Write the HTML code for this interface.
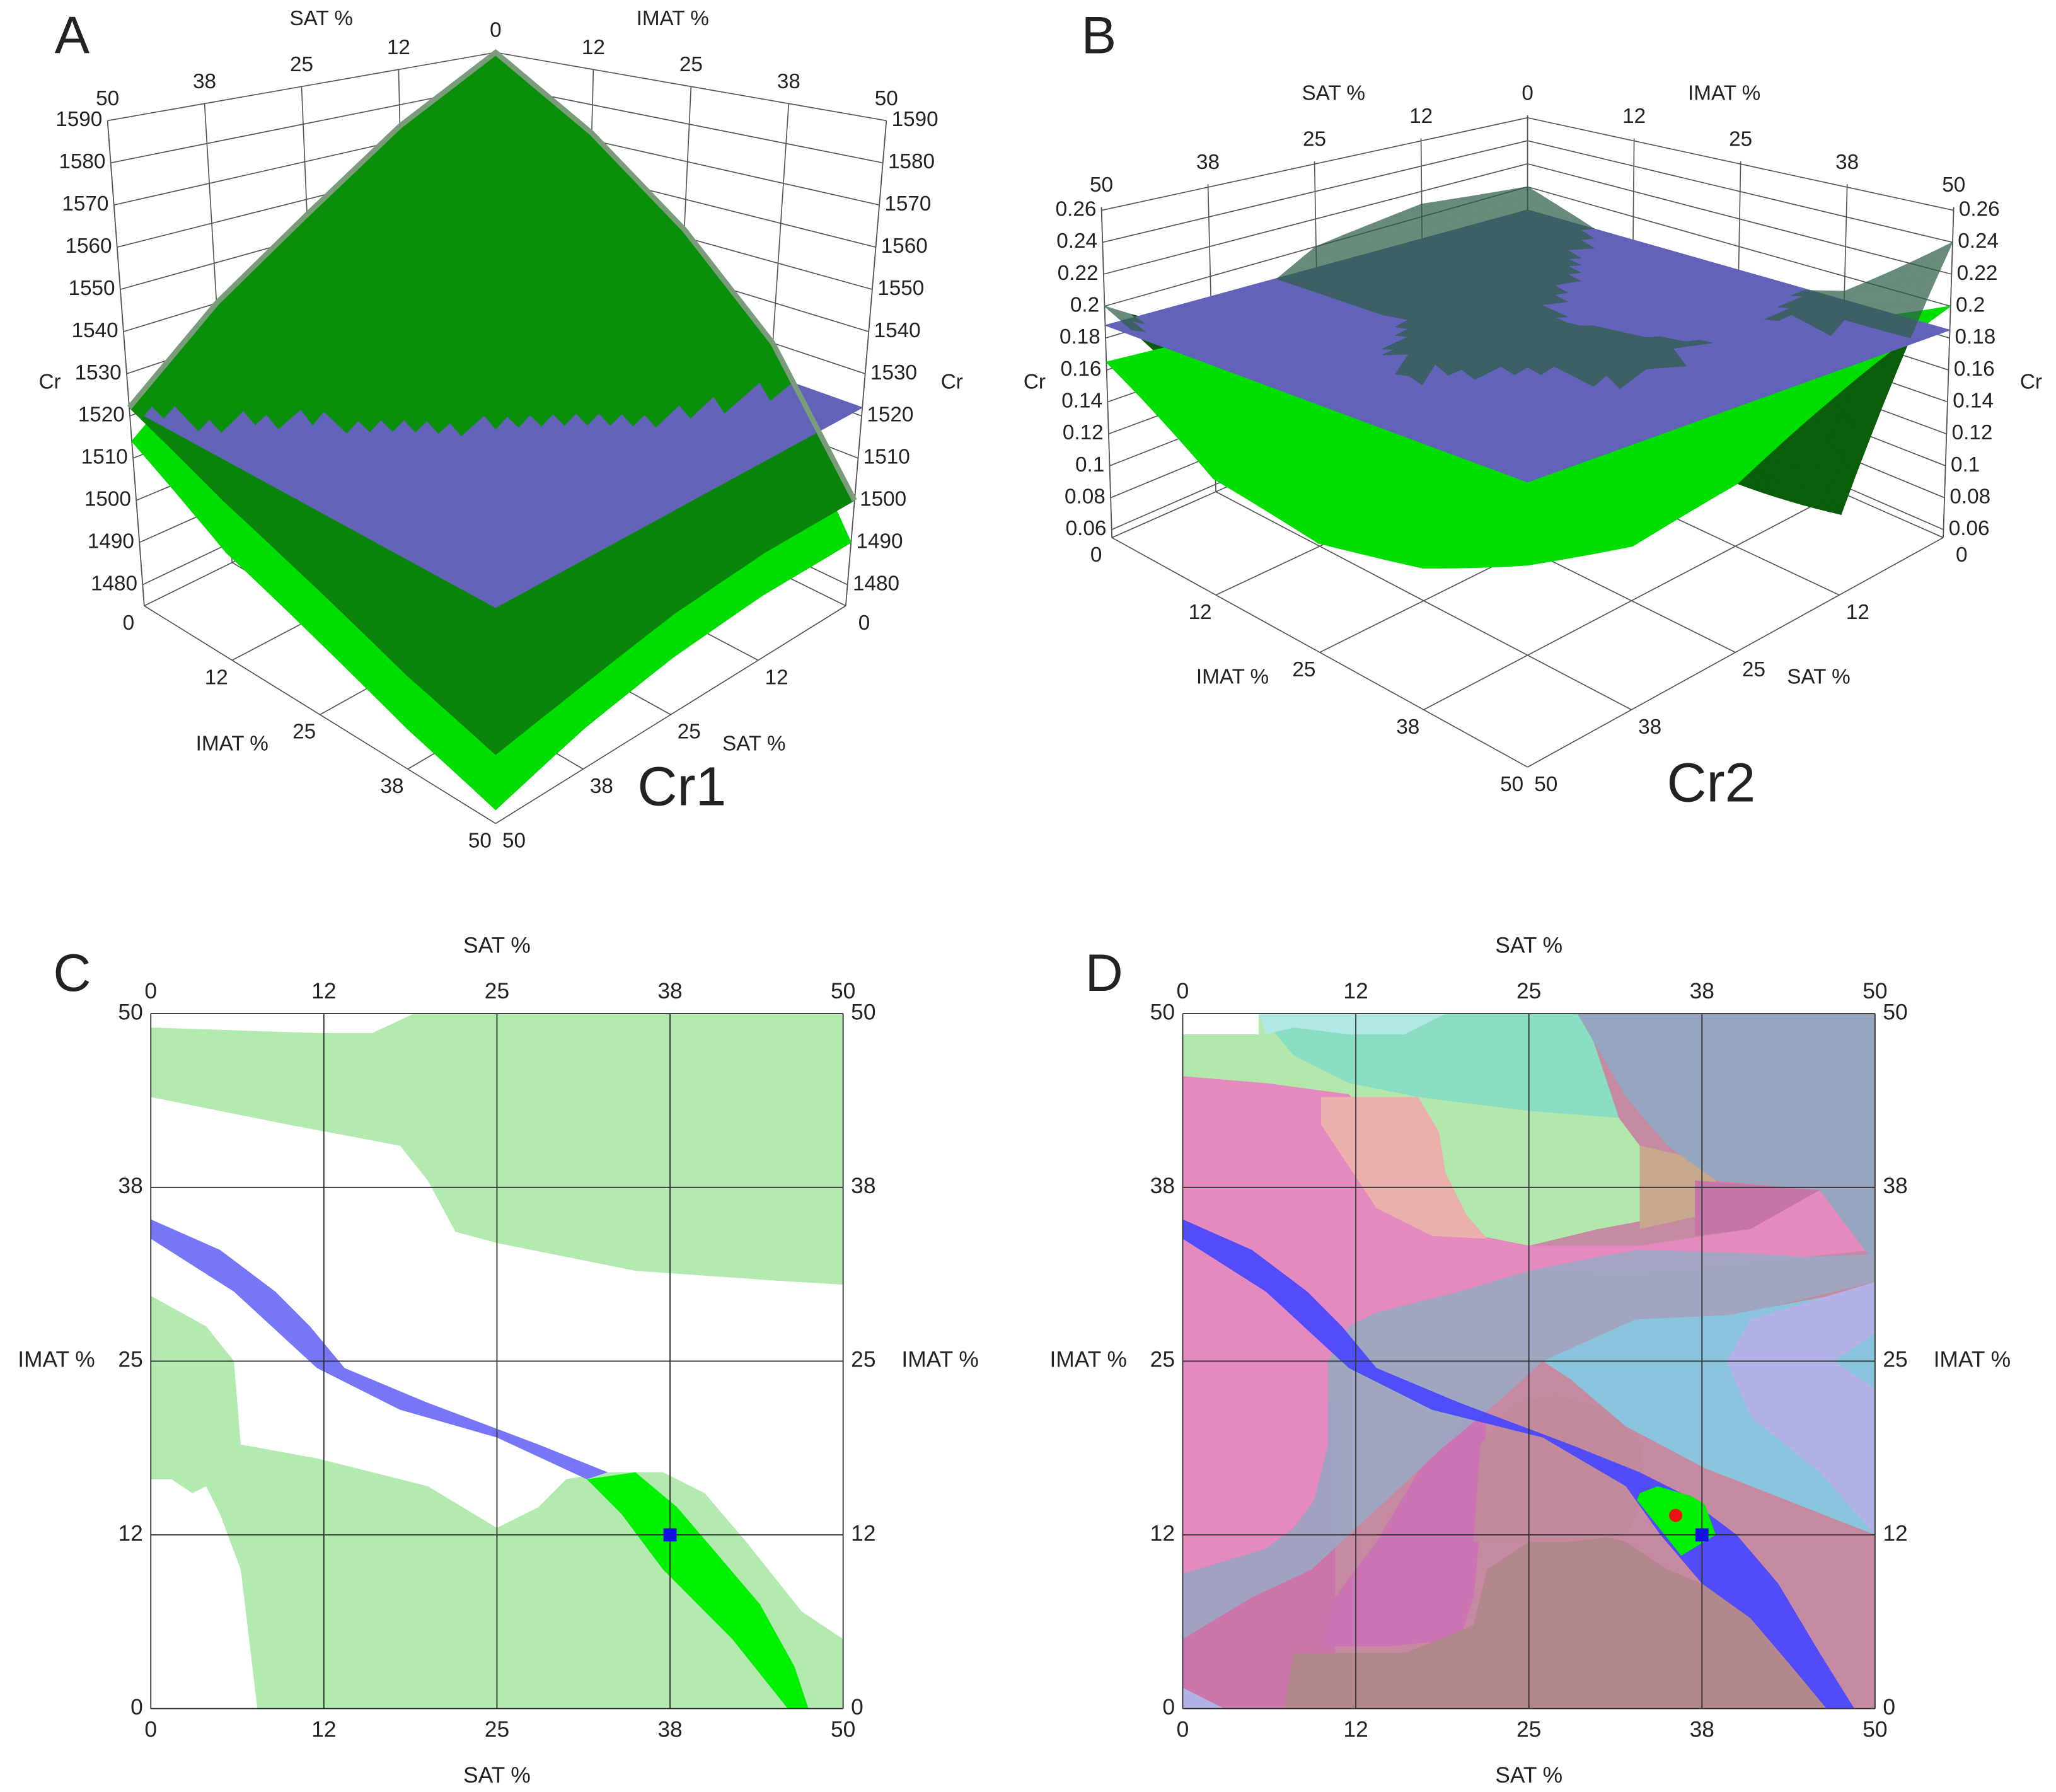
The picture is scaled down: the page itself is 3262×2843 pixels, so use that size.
<!DOCTYPE html>
<html><head><meta charset="utf-8"><style>
html,body{margin:0;padding:0;background:#fff;}
svg{display:block;font-family:"Liberation Sans",sans-serif;}
</style></head><body>
<svg id="fig" xmlns="http://www.w3.org/2000/svg" width="3262" height="2843" viewBox="0 0 1568 1366.6">
<rect x="0" y="0" width="1568" height="1367" fill="#fff"/>
</svg>
<script>
// ---------- DATA ----------
const gridTicks = [0, 12.5, 25, 37.5, 50];
const gridTickLabels = ["0", "12", "25", "38", "50"];
// Panel A (Cr1)
const crTicksA = [1480,1490,1500,1510,1520,1530,1540,1550,1560,1570,1580,1590];
const crTickLabelsA = ["1480","1490","1500","1510","1520","1530","1540","1550","1560","1570","1580","1590"];
const surfA = [ // rows: SAT 0..50, cols: IMAT 0..50
  [1590,1572,1552,1530,1500],
  [1574,1556,1536,1520,1500],
  [1556,1538,1521,1510,1498],
  [1540,1521,1512,1502,1494],
  [1522,1512,1504,1496,1490]];
const surfALower = [
  [1586,1566,1544,1522,1490],
  [1568,1548,1528,1510,1490],
  [1548,1528,1512,1500,1488],
  [1530,1512,1502,1492,1484],
  [1514,1500,1492,1484,1478]];
const planeA = [[1522,1522],[1522,1522]];
// Panel B (Cr2)
const crTicksB = [0.06,0.08,0.1,0.12,0.14,0.16,0.18,0.2,0.22,0.24,0.26];
const crTickLabelsB = ["0.06","0.08","0.1","0.12","0.14","0.16","0.18","0.2","0.22","0.24","0.26"];
const surfBBright = [
  [0.15,0.15,0.16,0.17,0.2],
  [0.15,0.13,0.12,0.13,0.17],
  [0.15,0.12,0.11,0.11,0.14],
  [0.16,0.12,0.11,0.11,0.13],
  [0.165,0.12,0.11,0.12,0.14]];
const surfBDark = [
  [0.20,0.17,0.17,0.19,0.24],
  [0.21,0.19,0.17,0.18,0.10],
  [0.20,0.19,0.19,0.19,0.14],
  [0.16,0.17,0.19,0.16,0.15],
  [0.20,0.16,0.11,0.15,0.15]];
const planeB = [[0.18,0.185],[0.188,0.175]];
// Panel C regions [SAT, IMAT]
const cGreenTop = [[0,49],[12,48.6],[16,48.6],[19,50],[50,50],[50,30.5],[45,30.8],[35,31.5],[25,33.5],[22,34.3],[20,38],[18,40.5],[10,42],[0,44]];
const cGreenBottom = [[0,29.7],[4,27.5],[6,25],[6.5,19],[12,18],[20,16],[25,13],[28,14.5],[30,16.5],[33,17],[37,17],[40,15.5],[43,12],[47,7],[50,5],[50,0],[7.7,0],[6.5,10],[5,14],[4,16],[3,15.5],[1.5,16.5],[0,16.5]];
const cBlueBand = [[0,35.2],[5,33],[9,30],[11.5,27.5],[14,24.5],[20,22],[28,19],[33,17],[31.5,16.5],[25,19.5],[18,21.5],[12,24.5],[6,30],[0,33.8]];
const cBrightGreen = [[31.5,16.5],[35,17],[38,14.5],[41,11],[44,7.5],[46.5,3],[47.5,0],[46,0],[42,5],[37,10],[34,14]];
const cMarker = [37.5,12.5];
// Panel D regions
const dBase = [[0,0],[50,0],[50,50],[0,50]];
const dWhiteCorner = [[0,50],[5.5,50],[5.5,48.5],[0,48.5]];
const dMagentaLeft = [[0,0],[11,0],[11,22],[6,24],[0,25]];
const dGreen = [[0,48.5],[5.5,48.5],[5.5,50],[29,50],[31.5,42.5],[33,40.5],[37,39.5],[38.5,38],[37,35.8],[30,34.5],[25,33.3],[21.5,34],[20,36],[19,38.5],[15,40],[0,44.5]];
const dPink = [[0,45.5],[6,45],[12,44.2],[14,42],[15,38],[19,34.5],[25,33.3],[33,33.3],[41,34.5],[46,37.3],[50,33],[33,31.3],[25,31.5],[20,30],[14,28.5],[12,27.5],[10.5,25],[10.5,19],[9.5,15],[8,13],[6,11.5],[0,9.7]];
const dTeal = [[5.5,50],[29,50],[31.5,42.5],[25,43],[17,44],[12,45],[8,47]];
const dCyan = [[5.5,50],[19,50],[16,48.5],[12,48.5],[8,49],[6,48.5]];
const dSalmon = [[10,44],[17,44],[18.5,41.5],[19,38.5],[20.5,35.5],[22,33.8],[18,34],[14,36],[12,39],[10,42]];
const dTan = [[33,40.5],[37.5,39.5],[38.5,38],[37.5,35.5],[33,34.5]];
const dMagentaMid = [[11,8],[14,12],[17,17],[19,19.5],[22,22],[21.5,13],[21,8],[20,5],[15,4.5],[10,4.5]];
const dBrown = [[7.3,0],[46.5,0],[44,3],[41,6.5],[37.5,9],[35,10],[32,12],[30,12.5],[25,12],[22,10],[21,6],[16,4],[8,4]];
const dMauveMid = [[21,12],[21.5,19],[24,22],[27,22.5],[31,21.5],[33,19],[33.5,15.5],[32,12.5],[28,12],[25,12]];
const dGreyTop = [[28.5,50],[50,50],[50,32],[46,37.3],[38.5,38],[35,40.5],[32,44]];
const dPinkWedge = [[37,38],[46,37.3],[41,34.5],[37,34]];
const dGreyBand = [[50,32.7],[45,32.5],[40,32.8],[33,33],[30,32.5],[25,31.5],[20,30],[14,28.5],[12,27.5],[10.5,25],[10.5,19],[9.5,15],[8,13],[6,11.5],[0,9.7],[0,5],[5,8],[9.3,10],[13.3,13.7],[18.7,18.7],[22.7,22],[26,25],[33,28],[40,28.3],[50,30.7]];
const dLightBlue = [[26,25],[32.7,28],[39.3,28.3],[50,30.3],[50,12.5],[37.7,17.3],[32,20.3],[28,23.7]];
const dLavender = [[39.3,25],[41,28],[50,30.7],[50,27],[47,25],[50,23],[50,12.5],[46,17],[41,21]];
const dLavenderCorner = [[0,0],[3,0],[0,1.5]];
const dBlueBand = [[0,35.2],[5,33],[9,30],[11.5,27.5],[14,24.5],[20,22],[28,19],[33,17],[36,15.5],[40,12.5],[43,9],[46,4],[48.5,0],[46.5,0],[44,3],[41,6.5],[37.5,9],[34.5,12.5],[32,16],[26,19.5],[18,21.5],[12,24.5],[6,30],[0,33.8]];
const dGreenSpot = [[33,15.5],[34.3,16],[36.7,15.3],[37.7,14.7],[38.5,12.5],[36,11],[32.8,15]];
const dRedDot = [35.6,13.9];
const dMarker = [37.5,12.5];

// ---------- HELPERS ----------
const NS = "http://www.w3.org/2000/svg";
const root = document.getElementById('fig');
function mk(tag, attrs, parent){ const e=document.createElementNS(NS,tag); for(const k in attrs) e.setAttribute(k,attrs[k]); (parent||root).appendChild(e); return e; }
function txt(x,y,s,size,anchor,parent){ const t=mk('text',{x:x,y:y,'font-size':size,'text-anchor':anchor||'middle','dominant-baseline':'middle',fill:'#222'},parent); t.textContent=s; return t; }
function lerp(a,b,t){return [a[0]+(b[0]-a[0])*t, a[1]+(b[1]-a[1])*t];}
function bil(c,u,v){ return lerp(lerp(c.p00,c.p10,u), lerp(c.p01,c.p11,u), v); }
function makeProj(floor, top, c0, c1){
  return function(s,i,cr){ const u=s/50, v=i/50, h=(cr-c0)/(c1-c0);
    const f=bil(floor,u,v), t=bil(top,u,v); return lerp(f,t,h); };
}
function pts(arr){ return arr.map(p=>p[0].toFixed(1)+','+p[1].toFixed(1)).join(' '); }
function refine(grid,k){
  const n=grid.length-1, m=grid[0].length-1, out=[];
  for(let a=0;a<=n*k;a++){ const row=[]; const fa=a/k, ia=Math.min(Math.floor(fa),n-1), ta=fa-ia;
    for(let b=0;b<=m*k;b++){ const fb=b/k, ib=Math.min(Math.floor(fb),m-1), tb=fb-ib;
      const z=grid[ia][ib]*(1-ta)*(1-tb)+grid[ia+1][ib]*ta*(1-tb)+grid[ia][ib+1]*(1-ta)*tb+grid[ia+1][ib+1]*ta*tb;
      row.push(z);} out.push(row);}
  return out;
}

// ---------- 3D PANEL ----------
function draw3D(g, P, c0, c1, crTicks, crLabels){
  const gl = {stroke:'#555','stroke-width':0.8,fill:'none'};
  crTicks.forEach(function(c){
    const l1=mk('polyline',Object.assign({points:pts([P(50,0,c),P(0,0,c),P(0,50,c)])},gl),g);
    
    
  });
  gridTicks.forEach(function(t){
    const a=mk('line',Object.assign({x1:P(t,0,c0)[0],y1:P(t,0,c0)[1],x2:P(t,0,c1)[0],y2:P(t,0,c1)[1]},gl),g);
    
    
    const b=mk('line',Object.assign({x1:P(0,t,c0)[0],y1:P(0,t,c0)[1],x2:P(0,t,c1)[0],y2:P(0,t,c1)[1]},gl),g);
    
    
    const f1=mk('line',Object.assign({x1:P(t,0,c0)[0],y1:P(t,0,c0)[1],x2:P(t,50,c0)[0],y2:P(t,50,c0)[1]},gl),g);
    
    
    const f2=mk('line',Object.assign({x1:P(0,t,c0)[0],y1:P(0,t,c0)[1],x2:P(50,t,c0)[0],y2:P(50,t,c0)[1]},gl),g);
    
    
  });
  [[50,0],[0,50]].forEach(function(q){
    const e=mk('line',Object.assign({x1:P(q[0],q[1],c0)[0],y1:P(q[0],q[1],c0)[1],x2:P(q[0],q[1],c1)[0],y2:P(q[0],q[1],c1)[1]},gl),g);
    
    
  });
  crTicks.forEach(function(c,k){
    const pl=P(50,0,c), pr=P(0,50,c);
    const a=txt(pl[0]-4,pl[1],crLabels[k],16,'end',g);
    
    
    const b=txt(pr[0]+4,pr[1],crLabels[k],16,'start',g);
    
    
  });
  gridTicks.forEach(function(t,k){
    const a=P(t,0,c1); const la=txt(a[0],a[1]-16,gridTickLabels[k],16,'middle',g);
    
    
    if(k>0){ const b=P(0,t,c1); const lb=txt(b[0],b[1]-16,gridTickLabels[k],16,'middle',g);
      
       }
    const c=P(50,t,c0); const lc=txt(c[0]-12,c[1]+14,gridTickLabels[k],16,'middle',g);
    
    
    const d=P(t,50,c0); const ld=txt(d[0]+14,d[1]+14,gridTickLabels[k],16,'middle',g);
    
    
  });
}
function quads(grid){
  const n=grid.length-1, m=grid[0].length-1, out=[];
  for(let a=0;a<n;a++) for(let b=0;b<m;b++){
    const sa=a*50/n, sb=(a+1)*50/n, ia=b*50/m, ib=(b+1)*50/m;
    out.push({c:[[sa,ia,grid[a][b]],[sb,ia,grid[a+1][b]],[sb,ib,grid[a+1][b+1]],[sa,ib,grid[a][b+1]]],
      depth:a+b, avg:(grid[a][b]+grid[a+1][b]+grid[a+1][b+1]+grid[a][b+1])/4, sa:sa, ia:ia});
  }
  out.sort((x,y)=>x.depth-y.depth);
  return out;
}
function drawQuads(g,P,list,fill,name){
  list.forEach(function(q){
    const p=q.c.map(v=>P(v[0],v[1],v[2]));
    const e=mk('polygon',{points:pts(p),fill:fill,stroke:fill,'stroke-width':0.6},g);
    
    
  });
}
function planeAt(pl,s,i){ const u=s/50,v=i/50; return pl[0][0]*(1-u)*(1-v)+pl[1][0]*u*(1-v)+pl[0][1]*(1-u)*v+pl[1][1]*u*v; }

// Panel A
(function(){
  const g=mk('g',{});  
  const c0=1475,c1=1590;
  const P=makeProj({p00:[378,330],p10:[110,462],p01:[645,462],p11:[378,628]},{p00:[378,40],p10:[82,92],p01:[676,92],p11:[378,225]},c0,c1);
  draw3D(g,P,c0,c1,crTicksA,crTickLabelsA);
  drawQuads(g,P,quads(refine(surfALower,6)),'#00dd00','cr1-surface-lower');
  const qa=quads(refine(surfA,8));
  const above=q=>q.avg>=planeAt(planeA,q.sa,q.ia);
  drawQuads(g,P,qa.filter(q=>!above(q)),'#0b840b','cr1-surface');
  drawQuads(g,P,quads(planeA),'#6262b8','cr1-reference-plane');
  drawQuads(g,P,qa.filter(above),'#0a8f0a','cr1-surface');
  const rim=mk('polyline',{points:pts([0,1,2,3,4].map(k=>P(50-k*12.5,0,surfA[4-k][0])).concat([1,2,3,4].map(k=>P(0,k*12.5,surfA[0][k])))),fill:'none',stroke:'#7a9c7a','stroke-width':4},g);
  
  
  let t=txt(55,30,'A',40,'middle',g);  
  t=txt(245,15,'SAT %',16);  
  t=txt(513,15,'IMAT %',16);  
  t=txt(177,568,'IMAT %',16);  
  t=txt(575,568,'SAT %',16);  
  t=txt(38,292,'Cr',16);  
  t=txt(726,292,'Cr',16);  
  t=txt(520,603,'Cr1',42);  
})();

// Panel B
(function(){
  const g=mk('g',{});  
  const c0=0.055,c1=0.262;
  const P=makeProj({p00:[1165,270],p10:[848,410],p01:[1482,410],p11:[1165,585]},{p00:[1165,88],p10:[840,158],p01:[1490,158],p11:[1165,210]},c0,c1);
  draw3D(g,P,c0,c1,crTicksB,crTickLabelsB);
  const qd=quads(refine(surfBDark,8));
  const above=q=>q.avg>=planeAt(planeB,q.sa,q.ia);
  drawQuads(g,P,qd.filter(q=>!above(q)),'#0a5e0a','cr2-surface-upper');
  drawQuads(g,P,quads(refine(surfBBright,6)),'#00dd00','cr2-surface-lower');
  drawQuads(g,P,quads(planeB),'#6262b8','cr2-reference-plane');
  const tg=mk('g',{opacity:0.72},g);
  
  
  drawQuads(tg,P,qd.filter(above),'#2f5f47','cr2-surface-upper');
  let t=txt(838,30,'B',40,'middle',g);  
  t=txt(1017,72,'SAT %',16);  
  t=txt(1315,72,'IMAT %',16);  
  t=txt(940,517,'IMAT %',16);  
  t=txt(1387,517,'SAT %',16);  
  t=txt(789,292,'Cr',16);  
  t=txt(1549,292,'Cr',16);  
  t=txt(1305,600,'Cr2',42);  
})();

// ---------- 2D PANELS ----------
function panel2D(ox, letter, layers){
  const g=mk('g',{});  
  const X=s=>ox+s*10.56, Y=i=>1303-i*10.6;
  const M=arr=>arr.map(p=>[X(p[0]),Y(p[1])]);
  layers.forEach(function(L){
    const e=mk('polygon',{points:pts(M(L.d)),fill:L.f},g);
    
    
  });
  gridTicks.forEach(function(t){
    const v=mk('line',{x1:X(t),y1:Y(0),x2:X(t),y2:Y(50),stroke:'#333','stroke-width':0.9},g);
    
    
    const h=mk('line',{x1:X(0),y1:Y(t),x2:X(50),y2:Y(t),stroke:'#333','stroke-width':0.9},g);
    
    
  });
  gridTicks.forEach(function(t,k){
    let a=txt(X(t),757,gridTickLabels[k],17,'middle',g);  
    a=txt(X(t),1320,gridTickLabels[k],17,'middle',g);  
    a=txt(X(0)-6,Y(t),gridTickLabels[k],17,'end',g);  
    a=txt(X(50)+6,Y(t),gridTickLabels[k],17,'start',g);  
  });
  let t=txt(X(25),722,'SAT %',17,'middle',g);  
  t=txt(X(25),1355,'SAT %',17,'middle',g);  
  t=txt(X(0)-72,Y(25),'IMAT %',17,'middle',g);  
  t=txt(X(50)+74,Y(25),'IMAT %',17,'middle',g);  
  t=txt(ox-60,745,letter,40,'middle',g);  
  return {g:g,X:X,Y:Y};
}
(function(){
  const r=panel2D(115,'C',[
    {d:cGreenTop,f:'#b2eaaf',n:'feasible-region-top'},
    {d:cGreenBottom,f:'#b2eaaf',n:'feasible-region-bottom'},
    {d:cBlueBand,f:'#7676f6',n:'cr1-band'},
    {d:cBrightGreen,f:'#00f000',n:'optimal-region'}]);
  const m=mk('rect',{x:r.X(cMarker[0])-5,y:r.Y(cMarker[1])-5,width:10,height:10,fill:'#1010e0'},r.g);
  
  
})();
(function(){
  const r=panel2D(902,'D',[
    {d:dBase,f:'rgb(198,138,162)',n:'region-base'},
    {d:dWhiteCorner,f:'#ffffff',n:'region-empty-corner'},
    {d:dMagentaLeft,f:'rgb(205,118,172)',n:'region-magenta-left'},
    {d:dGreen,f:'rgb(178,232,172)',n:'region-green'},
    {d:dPink,f:'rgb(228,138,190)',n:'region-pink'},
    {d:dTeal,f:'rgb(138,222,196)',n:'region-teal'},
    {d:dCyan,f:'rgb(176,232,228)',n:'region-cyan'},
    {d:dSalmon,f:'rgb(236,176,172)',n:'region-salmon'},
    {d:dTan,f:'rgb(200,168,140)',n:'region-tan'},
    {d:dMagentaMid,f:'rgb(205,116,180)',n:'region-magenta-middle'},
    {d:dBrown,f:'rgb(178,136,140)',n:'region-brown'},
    {d:dMauveMid,f:'rgb(195,138,158)',n:'region-mauve-middle'},
    {d:dGreyTop,f:'rgb(150,166,192)',n:'region-grey-blue-top'},
    {d:dPinkWedge,f:'rgb(198,118,168)',n:'region-pink-wedge'},
    {d:dGreyBand,f:'rgba(155,168,196,0.88)',n:'region-grey-band'},
    {d:dLightBlue,f:'rgb(137,195,220)',n:'region-light-blue'},
    {d:dLavender,f:'rgb(178,178,230)',n:'region-lavender'},
    {d:dLavenderCorner,f:'rgb(178,178,230)',n:'region-lavender-corner'},
    {d:dBlueBand,f:'rgba(70,70,255,0.92)',n:'cr-band'},
    {d:dGreenSpot,f:'#00ee00',n:'optimal-region'}]);
  const c=mk('circle',{cx:r.X(dRedDot[0]),cy:r.Y(dRedDot[1]),r:5,fill:'#ee1111'},r.g);
  
  
  const m=mk('rect',{x:r.X(dMarker[0])-5,y:r.Y(dMarker[1])-5,width:10,height:10,fill:'#1010e0'},r.g);
  
  
})();
</script>
</body></html>
